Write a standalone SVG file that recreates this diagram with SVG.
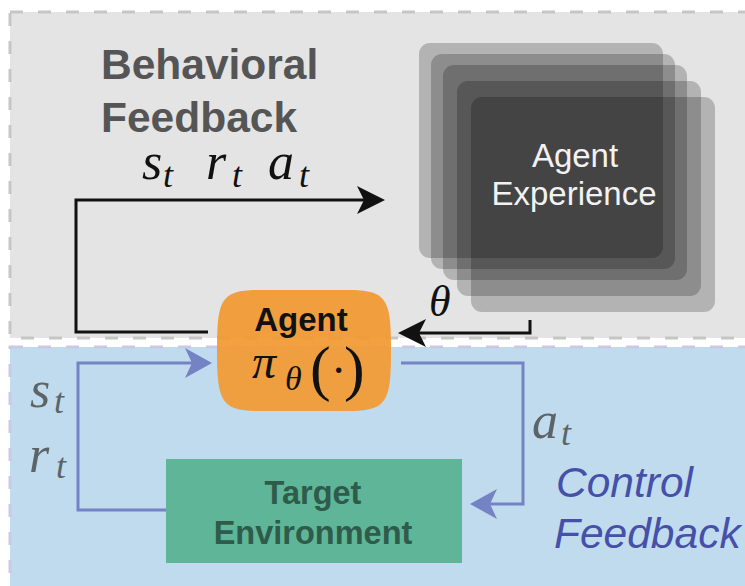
<svg xmlns="http://www.w3.org/2000/svg" width="745" height="586" viewBox="0 0 745 586">
  <style>
    .sans { font-family: "Liberation Sans", Arial, sans-serif; }
    .math { font-family: "Liberation Serif", "Times New Roman", serif; font-style: italic; }
    .rom { font-family: "Liberation Serif", "Times New Roman", serif; font-style: normal; }
    .blk { fill: none; stroke: #111111; stroke-width: 3; }
    .blu { fill: none; stroke: #7383c4; stroke-width: 3; }
    .layer { fill: #000000; fill-opacity: 0.21; }
    .grey-lbl { fill: #5d6468; }
    .sub { font-size: 36px; }
  </style>
  <defs>
    <marker id="ahBlack" markerUnits="userSpaceOnUse" markerWidth="32" markerHeight="32" viewBox="0 -16 32 32" refX="7" refY="0" orient="auto">
      <path d="M0,-14 L28,0 L0,14 L7,0 Z" fill="#111111"/>
    </marker>
    <marker id="ahBlue" markerUnits="userSpaceOnUse" markerWidth="32" markerHeight="34" viewBox="0 -17 32 34" refX="7" refY="0" orient="auto">
      <path d="M0,-15 L27,0 L0,15 L7,0 Z" fill="#7383c4"/>
    </marker>
  </defs>

  <rect width="745" height="586" fill="#ffffff"/>

  <!-- regions -->
  <g id="behavioral-region">
    <rect x="10" y="12" width="745" height="326" fill="#e4e4e4" stroke="#c6c6c6" stroke-width="3" stroke-dasharray="13 15"/>
    <text class="sans" x="101" y="79" font-size="42.5" font-weight="bold" fill="#555555">Behavioral</text>
    <text class="sans" x="101" y="132" font-size="42.5" font-weight="bold" fill="#555555">Feedback</text>
  </g>
  <g id="control-region">
    <rect x="10" y="347" width="745" height="250" fill="#c0dbee" stroke="#c9c9e6" stroke-width="3" stroke-dasharray="13 15"/>
    <text class="sans" x="556" y="497" font-size="42.5" font-style="italic" fill="#4650a8">Control</text>
    <text class="sans" x="554" y="548" font-size="42.5" font-style="italic" fill="#4650a8">Feedback</text>
  </g>

  <!-- experience stack -->
  <g id="agent-experience">
    <rect class="layer" x="419" y="43" width="244" height="215" rx="11"/>
    <rect class="layer" x="431" y="54" width="244" height="215" rx="11"/>
    <rect class="layer" x="443" y="65" width="244" height="215" rx="11"/>
    <rect class="layer" x="457" y="81" width="244" height="215" rx="11"/>
    <rect class="layer" x="471" y="97" width="244" height="215" rx="11"/>
    <text class="sans" x="575" y="167" font-size="33" fill="#f2f2f2" text-anchor="middle">Agent</text>
    <text class="sans" x="574" y="205" font-size="33" fill="#f2f2f2" text-anchor="middle">Experience</text>
  </g>

  <!-- connectors -->
  <g id="connectors">
    <path class="blk" d="M208,332 H76 V200 H364" marker-end="url(#ahBlack)"/>
    <path class="blk" d="M530,320 V333 H419" marker-end="url(#ahBlack)"/>
    <path class="blu" d="M166,510 H78 V363 H192" marker-end="url(#ahBlue)"/>
    <path class="blu" d="M401,363 H523 V504 H490" marker-end="url(#ahBlue)"/>

    <g class="math" fill="#111111" font-size="52">
      <text><tspan x="142" y="179">s</tspan><tspan class="sub" x="163" y="187">t</tspan><tspan x="206" y="179">r</tspan><tspan class="sub" x="232" y="187">t</tspan><tspan x="268" y="179">a</tspan><tspan class="sub" x="299" y="187">t</tspan></text>
      <text x="429" y="316" font-size="44">θ</text>
    </g>
    <g class="math grey-lbl" font-size="52">
      <text><tspan x="30" y="407">s</tspan><tspan class="sub" x="54" y="413">t</tspan></text>
      <text><tspan x="29" y="472">r</tspan><tspan class="sub" x="56" y="478">t</tspan></text>
      <text><tspan x="532" y="438">a</tspan><tspan class="sub" x="561" y="445">t</tspan></text>
    </g>
  </g>

  <!-- policy node -->
  <g id="agent">
    <path d="M260,290 L348,290 C387,290 391,299 391,350 C391,402 387,411 348,411 L260,411 C221,411 217,402 217,350 C217,299 221,290 260,290 Z" fill="#f29a32" fill-opacity="0.93"/>
    <text class="sans" x="301" y="331" font-size="33" font-weight="bold" fill="#111111" text-anchor="middle">Agent</text>
    <text fill="#111111"><tspan class="math" x="252" y="378" font-size="48">π</tspan><tspan class="math" x="285" y="390" font-size="34">θ</tspan><tspan class="rom" x="310" y="389" font-size="62">(</tspan><tspan class="rom" x="331" y="386" font-size="46">·</tspan><tspan class="rom" x="344" y="389" font-size="62">)</tspan></text>
  </g>

  <!-- environment node -->
  <g id="target-environment">
    <rect x="166" y="459" width="296" height="104" fill="#5fb598"/>
    <text class="sans" x="313" y="504" font-size="32.5" font-weight="bold" fill="#2e5b4a" text-anchor="middle">Target</text>
    <text class="sans" x="313" y="544" font-size="32.5" font-weight="bold" fill="#2e5b4a" text-anchor="middle">Environment</text>
  </g>
</svg>
